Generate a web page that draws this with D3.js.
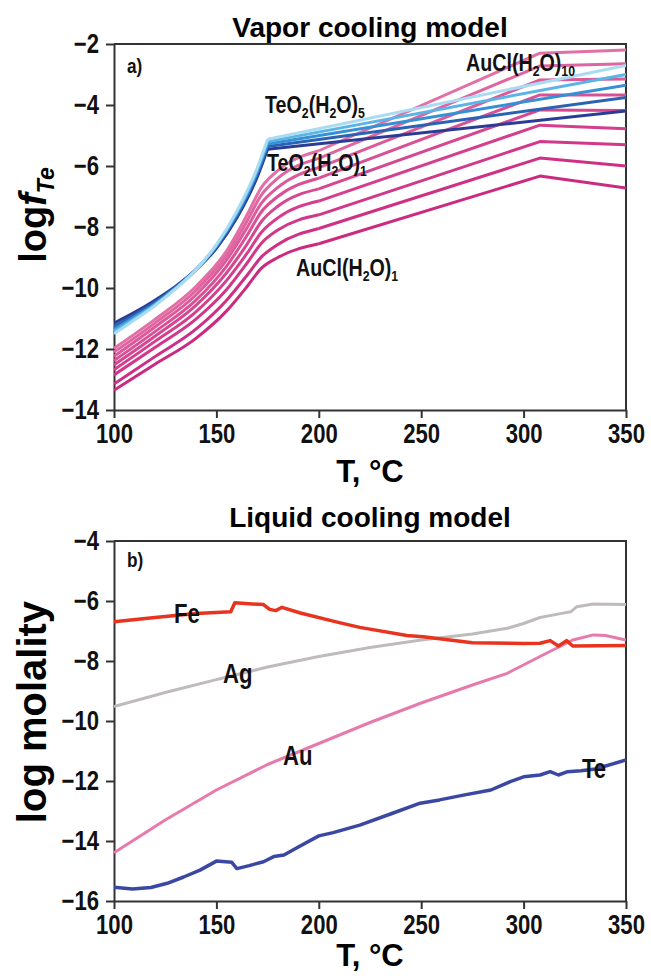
<!DOCTYPE html>
<html lang="en">
	<head>
		<meta charset="UTF-8"/>
		<title>Vapor and liquid cooling models</title>
		<script type="text/javascript" src="https://cdn.jsdelivr.net/npm/d3@7/dist/d3.min.js"></script>
		<style>
			body { margin: 0; background: #fff; }
			.axis path, .axis line { stroke: #333; stroke-width: 2; }
			.axis text { font-family: 'Liberation Sans', Arial, sans-serif; font-weight: bold; font-size: 27px; fill: #111; }
		</style>
	</head>
	<body>
		<script type="text/javascript">
			// ---- panel a: vapor cooling, log f(Te) ----
			var xTicks = [100, 150, 200, 250, 300, 350];
			var yTicksA = [-14, -12, -10, -8, -6, -4, -2];
			var yTicksB = [-16, -14, -12, -10, -8, -6, -4];

			// TeO2(H2O)n, n = 1..5 ; kink at 175 C
			var tempsTe = [100, 110, 120, 130, 140, 150, 160, 170, 175, 350];
			var teo2_1 = [-11.15, -10.8, -10.4, -9.95, -9.4, -8.7, -7.7, -6.35, -5.45, -4.2];
			var teo2_2 = [-11.25, -10.88, -10.47, -9.98, -9.4, -8.65, -7.62, -6.25, -5.36, -3.75];
			var teo2_3 = [-11.35, -10.95, -10.52, -10.0, -9.4, -8.62, -7.57, -6.18, -5.28, -3.35];
			var teo2_4 = [-11.42, -11.0, -10.55, -10.02, -9.4, -8.6, -7.52, -6.12, -5.2, -3.0];
			var teo2_5 = [-11.5, -11.05, -10.58, -10.03, -9.4, -8.58, -7.48, -6.05, -5.12, -2.7];
			var teColors = ["#2b3c96", "#2a63b4", "#3690d4", "#5bb4e6", "#a9dcf2"];

			// AuCl(H2O)n ; smooth bend near 175 C, kink at 308 C
			var tempsAu = [100, 120, 140, 155, 165, 172, 180, 200, 308, 350];
			var aucl_1 = [-13.35, -12.5, -11.65, -10.75, -9.95, -9.35, -9.0, -8.55, -6.33, -6.72];
			var aucl_2 = [-13.15, -12.25, -11.35, -10.4, -9.58, -8.98, -8.57, -8.05, -5.74, -6.0];
			var aucl_3 = [-12.85, -11.95, -11.02, -10.05, -9.18, -8.53, -8.1, -7.6, -5.2, -5.3];
			var aucl_4 = [-12.68, -11.75, -10.78, -9.75, -8.86, -8.17, -7.7, -7.15, -4.66, -4.78];
			var aucl_5 = [-12.52, -11.58, -10.57, -9.5, -8.56, -7.82, -7.32, -6.75, -4.16, -4.18];
			var aucl_6 = [-12.38, -11.43, -10.4, -9.28, -8.27, -7.5, -7.0, -6.4, -3.67, -3.67];
			var aucl_7 = [-12.24, -11.28, -10.23, -9.08, -8.02, -7.22, -6.7, -6.05, -3.18, -3.15];
			var aucl_8 = [-12.1, -11.15, -10.08, -8.92, -7.8, -6.95, -6.4, -5.75, -2.72, -2.65];
			var aucl_9 = [-11.98, -11.03, -9.95, -8.78, -7.6, -6.7, -6.15, -5.5, -2.3, -2.2];
			var auColors = ["#cc2a80", "#cf3085", "#d23789", "#d43e8d", "#d64791", "#d95095", "#dc5a9a", "#df649f", "#e26fa6"];

			// ---- panel b: liquid cooling, log molality ----
			var tempsFe = [100, 120, 140, 157, 159, 173, 176, 179, 182, 191, 210, 220, 243, 251, 275, 300, 308, 313, 317, 321, 324, 350];
			var fe = [-6.69, -6.55, -6.42, -6.36, -6.06, -6.12, -6.28, -6.32, -6.21, -6.4, -6.72, -6.88, -7.15, -7.19, -7.39, -7.42, -7.41, -7.32, -7.5, -7.32, -7.5, -7.48];
			var tempsAg = [100, 125, 150, 175, 200, 225, 250, 275, 292, 300, 308, 318, 323, 326, 334, 350];
			var ag = [-9.52, -9.05, -8.62, -8.2, -7.85, -7.55, -7.3, -7.1, -6.91, -6.75, -6.55, -6.42, -6.36, -6.19, -6.1, -6.12];
			var tempsAuL = [100, 125, 150, 175, 200, 225, 250, 275, 292, 308, 324, 334, 340, 350];
			var au = [-14.39, -13.3, -12.3, -11.45, -10.75, -10.05, -9.4, -8.8, -8.41, -7.85, -7.3, -7.13, -7.15, -7.3];
			var tempsTeL = [100, 109, 118, 126, 134, 142, 150, 157.5, 160, 166, 173, 178, 183, 190, 200, 207, 220, 235, 249.5, 259, 270, 284, 293.5, 300, 308, 313, 317, 321.5, 328, 335, 350];
			var te = [-15.54, -15.6, -15.55, -15.41, -15.2, -14.97, -14.67, -14.71, -14.92, -14.82, -14.69, -14.52, -14.47, -14.2, -13.83, -13.72, -13.47, -13.1, -12.74, -12.63, -12.48, -12.3, -12.02, -11.86, -11.8, -11.69, -11.8, -11.69, -11.66, -11.6, -11.3];

			var w = 651, h = 978;
			var left = 114, right = 626;
			var FONT = "'Liberation Sans', Arial, sans-serif";
			var SQ = 0.82; // horizontal squeeze for the condensed lettering

			var svg = d3.select("body")
				.append("svg")
				.attr("width", w)
				.attr("height", h);

			var xScale = d3.scaleLinear().domain([100, 350]).range([left, right]);
			var yScaleA = d3.scaleLinear().domain([-14, -2]).range([410, 44]);
			var yScaleB = d3.scaleLinear().domain([-16, -4]).range([901, 541]);

			function zip(ts, vs) {
				return ts.map(function(t, i) { return [t, vs[i]]; });
			}

			function panel(yScale, yTicks, top, bottom, title, titleY, xLabY, clipId) {
				svg.append("defs").append("clipPath").attr("id", clipId)
					.append("rect")
					.attr("x", left).attr("y", top)
					.attr("width", right - left).attr("height", bottom - top);

				svg.append("text")
					.attr("x", (left + right) / 2).attr("y", titleY)
					.attr("text-anchor", "middle")
					.attr("font-family", FONT).attr("font-weight", "bold")
					.attr("font-size", "28px")
					.text(title);

				svg.append("g")
					.attr("class", "axis")
					.attr("transform", "translate(0," + bottom + ")")
					.call(d3.axisBottom(xScale).tickValues(xTicks).tickSize(8).tickPadding(6).tickSizeOuter(0))
					.selectAll("text").attr("transform", "scale(" + SQ + ",1)");

				svg.append("g")
					.attr("class", "axis")
					.attr("transform", "translate(" + left + ",0)")
					.call(d3.axisLeft(yScale).tickValues(yTicks).tickSize(8).tickPadding(7).tickSizeOuter(0))
					.selectAll("text")
					.attr("x", -15 / SQ)
					.attr("transform", "scale(" + SQ + ",1)");

				svg.append("path")
					.attr("d", "M" + left + "," + top + "H" + right + "V" + bottom)
					.attr("fill", "none")
					.attr("stroke", "#333")
					.attr("stroke-width", 2);

				svg.append("text")
					.attr("x", (left + right) / 2).attr("y", xLabY)
					.attr("text-anchor", "middle")
					.attr("font-family", FONT).attr("font-weight", "bold")
					.attr("font-size", "31px")
					.text("T, \u00B0C");

				return svg.append("g").attr("clip-path", "url(#" + clipId + ")");
			}

			// text with subscripts, squeezed horizontally
			function label(x, y, parts, size) {
				var t = svg.append("g")
					.attr("transform", "translate(" + x + "," + y + ") scale(" + SQ + ",1)")
					.append("text")
					.attr("font-family", FONT).attr("font-weight", "bold")
					.attr("font-size", size + "px")
					.attr("fill", "#111");
				var down = false;
				parts.forEach(function(p) {
					if (p.sub) {
						t.append("tspan").attr("font-size", Math.round(size * 0.62) + "px").attr("dy", 5).text(p.sub);
						down = true;
					} else {
						t.append("tspan").attr("dy", down ? -5 : 0).text(p.t);
						down = false;
					}
				});
				return t;
			}

			function drawLine(g, line, pts, color, sw) {
				g.append("path")
					.datum(pts)
					.attr("d", line)
					.attr("fill", "none")
					.attr("stroke", color)
					.attr("stroke-width", sw)
					.attr("stroke-linejoin", "round");
			}

			// ---- panel a ----
			var gA = panel(yScaleA, yTicksA, 44, 410, "Vapor cooling model", 37, 482, "clipA");
			var smoothA = d3.line()
				.x(function(d) { return xScale(d[0]); })
				.y(function(d) { return yScaleA(d[1]); })
				.curve(d3.curveMonotoneX);
			var straightA = d3.line()
				.x(function(d) { return xScale(d[0]); })
				.y(function(d) { return yScaleA(d[1]); });

			var auSeries = [aucl_1, aucl_2, aucl_3, aucl_4, aucl_5, aucl_6, aucl_7, aucl_8, aucl_9];
			auSeries.forEach(function(s, i) {
				var pts = zip(tempsAu, s);
				drawLine(gA, smoothA, pts.slice(0, 8), auColors[i], 3);
				drawLine(gA, straightA, pts.slice(7), auColors[i], 3);
			});

			var teSeries = [teo2_1, teo2_2, teo2_3, teo2_4, teo2_5];
			teSeries.forEach(function(s, i) {
				var pts = zip(tempsTe, s);
				drawLine(gA, smoothA, pts.slice(0, 9), teColors[i], 3);
				drawLine(gA, straightA, pts.slice(8), teColors[i], 3);
			});

			label(127, 73, [{t: "a)"}], 21);
			label(265, 113, [{t: "TeO"}, {sub: "2"}, {t: "(H"}, {sub: "2"}, {t: "O)"}, {sub: "5"}], 24);
			label(267, 171, [{t: "TeO"}, {sub: "2"}, {t: "(H"}, {sub: "2"}, {t: "O)"}, {sub: "1"}], 24);
			label(466, 71, [{t: "AuCl(H"}, {sub: "2"}, {t: "O)"}, {sub: "10"}], 24);
			label(296, 276, [{t: "AuCl(H"}, {sub: "2"}, {t: "O)"}, {sub: "1"}], 24);

			// y label a: log f_Te
			var ylA = svg.append("text")
				.attr("transform", "translate(46,215) rotate(-90)")
				.attr("text-anchor", "middle")
				.attr("font-family", FONT).attr("font-weight", "bold")
				.attr("font-size", "38px");
			ylA.append("tspan").text("log");
			ylA.append("tspan").attr("font-style", "italic").text("f");
			ylA.append("tspan").attr("font-style", "italic").attr("font-size", "23px").attr("dy", 8).text("Te");

			// ---- panel b ----
			var gB = panel(yScaleB, yTicksB, 541, 901, "Liquid cooling model", 527, 966, "clipB");
			var lineB = d3.line()
				.x(function(d) { return xScale(d[0]); })
				.y(function(d) { return yScaleB(d[1]); });

			drawLine(gB, lineB, zip(tempsAg, ag), "#c0bbbb", 3);
			drawLine(gB, lineB, zip(tempsAuL, au), "#e67aac", 3);
			drawLine(gB, lineB, zip(tempsFe, fe), "#e8341e", 3.5);
			drawLine(gB, lineB, zip(tempsTeL, te), "#3a48a4", 3.5);

			label(127, 567, [{t: "b)"}], 21);
			label(174, 623, [{t: "Fe"}], 27);
			label(223, 683, [{t: "Ag"}], 27);
			label(283, 765, [{t: "Au"}], 27);
			label(582, 778, [{t: "Te"}], 27);

			svg.append("text")
				.attr("transform", "translate(46,712) rotate(-90)")
				.attr("text-anchor", "middle")
				.attr("font-family", FONT).attr("font-weight", "bold")
				.attr("font-size", "40px")
				.text("log molality");
		</script>
	</body>
</html>
